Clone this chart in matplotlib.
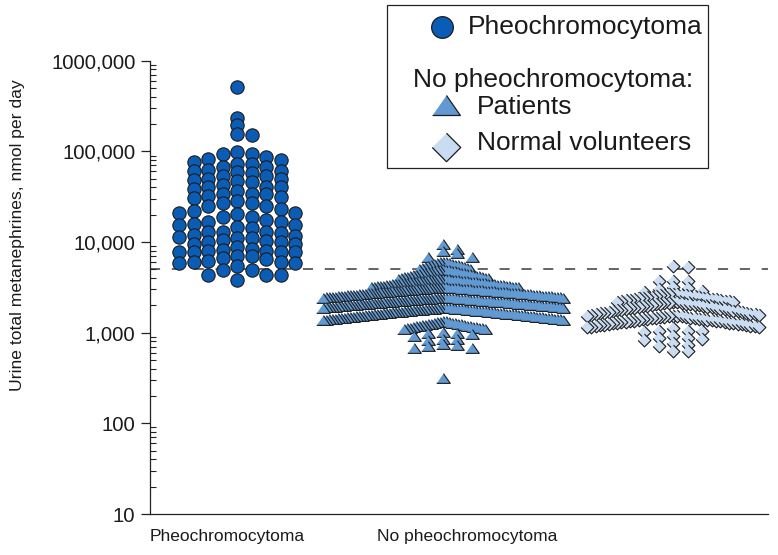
import numpy as np
import matplotlib
matplotlib.use("Agg")
import matplotlib.pyplot as plt
from matplotlib.patches import Rectangle
from matplotlib.ticker import FixedLocator, LogLocator, NullFormatter

plt.rcParams['font.family'] = ['Liberation Sans', 'DejaVu Sans']

# ---------------- data: urine total metanephrines, nmol per day ----------------
category_labels = ["Pheochromocytoma", "No pheochromocytoma"]
tick_values = [10, 100, 1000, 10000, 100000, 1000000]
tick_labels = ["10", "100", "1,000", "10,000", "100,000", "1000,000"]
cutoff = 5000

pheo = [
    507000, 234000, 195000, 157000, 151000,
    98600, 92900, 92900, 86700, 83200, 79700, 76400,
    72000, 72000, 67300, 67300, 62800, 60700, 60700,
    59200, 57700, 53000, 53000, 50000, 50000, 47900,
    47100, 45900, 42200, 40400, 40400, 40400, 38700,
    36500, 34100, 34100, 34100, 31800, 31300, 30800,
    28300, 26900, 26900, 24700, 24700, 23300, 21900, 20800, 20800,
    20300, 19100, 18800, 17300, 16600, 16600, 15900, 15600, 15600,
    14600, 14400, 12900, 12900, 12900, 12500, 12100, 11800, 11300,
    11100, 11000, 10400, 10200, 9950, 9950, 9550, 9550,
    8770, 8400, 8180, 8050, 8050, 7710, 7710, 7710, 7710,
    7100, 7100, 6680, 6520, 6240, 5980, 5980, 5830, 5830,
    5500, 4970, 4920, 4370, 4370, 4370, 3810,
]

patients = [
    9530, 8410, 7960, 7520, 6890, 6790,
    5030, 5090, 5150, 5210, 5270, 5330, 5390, 5450, 5510, 5570,
    5630, 5690, 5750, 5810, 5870, 5980, 6080, 6080,
    3945, 3980, 4015, 4050, 4085, 4120, 4155, 4190, 4225, 4260,
    4295, 4330, 4365, 4400, 4435, 4470, 4505, 4540, 4575, 4610,
    4645, 4680, 4715, 4750, 4785, 4820, 4855, 4890, 4925, 4960,
    4995,
    3170, 3185, 3200, 3216, 3231, 3247, 3262, 3278, 3293, 3309,
    3324, 3340, 3355, 3371, 3386, 3402, 3417, 3433, 3448, 3464,
    3479, 3495, 3510, 3526, 3541, 3557, 3572, 3588, 3603, 3619,
    3634, 3650, 3665, 3681, 3696, 3712, 3727, 3743, 3758, 3774,
    3789, 3805, 3820, 3836, 3851, 3867, 3882, 3898, 3913, 3928,
    2430, 2439, 2448, 2457, 2466, 2475, 2484, 2494, 2503, 2512,
    2521, 2530, 2540, 2549, 2558, 2567, 2576, 2586, 2595, 2604,
    2613, 2622, 2632, 2641, 2650, 2659, 2668, 2678, 2687, 2696,
    2705, 2714, 2724, 2733, 2742, 2751, 2760, 2770, 2779, 2788,
    2797, 2806, 2816, 2825, 2834, 2843, 2852, 2862, 2871, 2880,
    2889, 2898, 2908, 2917, 2926, 2935, 2944, 2954, 2963, 2972,
    2981, 2990, 3000, 3009, 3018, 3027, 3036, 3046, 3055, 3064,
    3073, 3082, 3092, 3101, 3110, 3119, 3128, 3138, 3147, 3155,
    3160,
    1888, 1895, 1901, 1908, 1915, 1922, 1928, 1935, 1942, 1949,
    1956, 1962, 1969, 1976, 1983, 1990, 1996, 2003, 2010, 2017,
    2024, 2030, 2037, 2044, 2051, 2058, 2064, 2071, 2078, 2085,
    2092, 2098, 2105, 2112, 2119, 2126, 2132, 2139, 2146, 2153,
    2160, 2166, 2173, 2180, 2187, 2194, 2200, 2207, 2214, 2221,
    2228, 2234, 2241, 2248, 2255, 2262, 2268, 2275, 2282, 2289,
    2296, 2302, 2309, 2316, 2323, 2330, 2336, 2343, 2350, 2357,
    2364, 2370, 2377, 2384, 2391, 2398, 2404, 2411, 2418, 2422,
    2425,
    1385, 1390, 1396, 1402, 1408, 1415, 1420, 1426, 1433, 1440,
    1445, 1451, 1458, 1464, 1470, 1476, 1482, 1489, 1495, 1500,
    1507, 1513, 1520, 1526, 1532, 1538, 1545, 1551, 1557, 1563,
    1570, 1576, 1582, 1588, 1595, 1601, 1607, 1613, 1620, 1626,
    1632, 1638, 1645, 1651, 1657, 1664, 1670, 1676, 1683, 1689,
    1695, 1701, 1708, 1714, 1720, 1727, 1733, 1739, 1745, 1752,
    1758, 1764, 1770, 1777, 1783, 1790, 1796, 1802, 1808, 1815,
    1821, 1827, 1833, 1840, 1846, 1852, 1858, 1865, 1871, 1877,
    1880,
    1100, 1108, 1115, 1125, 1134, 1140, 1150, 1158, 1166, 1175,
    1183, 1190, 1200, 1210, 1218, 1225, 1235, 1244, 1252, 1260,
    1270, 1280, 1290, 1300, 1312, 1325, 1340, 1360,
    1005, 1000, 995, 979, 925,
    849, 845, 838,
    748, 729, 716, 686, 676,
    319,
]

volunteers = [
    5470, 5260,
    3750, 3750, 3680,
    3160, 3090, 3020, 2880, 2790,
    2172, 2191, 2210, 2230, 2249, 2269, 2288, 2307, 2327, 2346,
    2366, 2385, 2404, 2424, 2443, 2463, 2482, 2501, 2521, 2540,
    2560, 2579, 2598, 2618, 2637, 2657, 2672, 2688,
    1542, 1558, 1574, 1589, 1605, 1621, 1637, 1652, 1668, 1684,
    1700, 1715, 1731, 1747, 1763, 1778, 1794, 1810, 1826, 1841,
    1857, 1873, 1889, 1904, 1920, 1936, 1952, 1967, 1983, 1999,
    2015, 2030, 2046, 2062, 2078, 2093, 2109, 2125, 2141, 2155,
    2165,
    1145, 1155, 1165, 1175, 1185, 1195, 1205, 1214, 1224, 1234,
    1244, 1254, 1264, 1273, 1283, 1293, 1303, 1313, 1323, 1332,
    1342, 1352, 1362, 1372, 1382, 1391, 1401, 1411, 1421, 1431,
    1441, 1450, 1460, 1470, 1480, 1490, 1500, 1509, 1519, 1528,
    1535,
    1125, 1050, 1045, 1040, 1005,
    925, 871, 871, 849, 828,
    760, 735, 712,
    631, 630,
]

# ---------------- styling ----------------
C_PHEO = "#0b5cb5"
C_PAT = "#6199d3"
C_VOL = "#c9dcf1"
EDGE = "#1c1c1c"
TXT = "#1a1a1a"

TRI = [(-1, -0.72), (1, -0.72), (0, 0.72)]
DIA = [(0, 1), (1, 0), (0, -1), (-1, 0)]


def swarm(values, edges, wide_step, tight_step, max_wide):
    """Bin values on a log scale into rows; within a row, place the points
    from the largest value outward (centre, right, left, ...)."""
    v = np.asarray(values, float)
    b = np.digitize(np.log10(v), edges)
    off = np.zeros(len(v))
    rank = np.zeros(len(v), int)
    for k in np.unique(b):
        idx = np.flatnonzero(b == k)
        idx = idx[np.argsort(-v[idx], kind="stable")]
        step = wide_step if len(idx) <= max_wide else tight_step
        for j, i in enumerate(idx):
            m = (j + 1) // 2
            off[i] = step * m * (1 if j % 2 else -1)
            rank[i] = j
    order = np.lexsort((rank, -b))
    return v, off, order


W, H = 778, 555
fig = plt.figure(figsize=(W / 100, H / 100), dpi=100)
ax_left, ax_bottom, ax_right, ax_top = 150, 514, 768, 60.7
ax = fig.add_axes([ax_left / W, 1 - ax_bottom / H,
                   (ax_right - ax_left) / W, (ax_bottom - ax_top) / H])
ax.set_yscale("log")
ax.set_ylim(10, 1e6)
ax.set_xlim(0, 6.18)
ppu = ax.bbox.width / 6.18  # pixels per x unit

ax.axhline(cutoff, color="#3a3a3a", lw=1.1, linestyle=(0, (6.6, 7.7)), zorder=1)

groups = [
    (pheo, 0.87, [3.50, 3.62, 3.755, 3.87, 3.96, 4.05, 4.18, 4.31, 4.47, 4.575,
                  4.677, 4.778, 4.87, 5.10, 5.25, 5.33, 5.50, 5.90],
     14.5, 14.5, 50, "o", C_PHEO, 92, 0.8),
    (patients, 2.925, [2.40, 2.80, 2.90, 2.94, 3.04, 3.14, 3.275, 3.385, 3.50,
                       3.595, 3.70, 3.81, 3.92, 4.05],
     14.5, 3.0, 6, TRI, C_PAT, 95, 0.8),
    (volunteers, 5.23, [2.70, 2.845, 2.905, 2.985, 3.058, 3.187, 3.336, 3.43,
                        3.53, 3.63, 3.80],
     14.5, 4.3, 6, DIA, C_VOL, 85, 0.8),
]
for vals, cx, edges, ws, ts, mw, mk, col, s, lw in groups:
    v, off, order = swarm(vals, edges, ws, ts, mw)
    x = cx + off / ppu
    ax.scatter(x[order], v[order], marker=mk, s=s, facecolor=col,
               edgecolor=EDGE, linewidth=lw, zorder=3)

# axes styling
for side in ("top", "right"):
    ax.spines[side].set_visible(False)
for side in ("left", "bottom"):
    ax.spines[side].set_linewidth(0.9)
    ax.spines[side].set_color("#222222")

ax.yaxis.set_major_locator(FixedLocator(tick_values))
ax.set_yticklabels(tick_labels)
ax.yaxis.set_minor_locator(LogLocator(base=10, subs=np.arange(2, 10)))
ax.yaxis.set_minor_formatter(NullFormatter())
ax.tick_params(axis="y", which="major", direction="out", length=6.5, width=0.9,
               pad=4.0, labelsize=14.6, labelcolor=TXT, color="#222222")
ax.tick_params(axis="y", which="minor", direction="in", length=4.5, width=0.8,
               color="#222222")

ax.set_xticks([0.768, 3.175])
ax.set_xticklabels(category_labels)
ax.tick_params(axis="x", length=0, pad=11, labelsize=12.5, labelcolor=TXT)

fig.text(18 / W, 1 - 235 / H, "Urine total metanephrines, nmol per day",
         rotation=90, ha="center", va="center", fontsize=12.6, color=TXT)

# legend box drawn in pixel coordinates
ov = fig.add_axes([0, 0, 1, 1], zorder=5)
ov.set_xlim(0, W)
ov.set_ylim(H, 0)
ov.axis("off")
ov.add_patch(Rectangle((387.5, 5), 320.5, 163, facecolor="white",
                       edgecolor="#222222", lw=0.9))
ov.scatter([442.3], [26.7], marker="o", s=15.6 ** 2, facecolor=C_PHEO,
           edgecolor=EDGE, linewidth=0.9, zorder=6)
ov.scatter([445.7], [105], marker=TRI, s=20 ** 2, facecolor=C_PAT,
           edgecolor=EDGE, linewidth=0.9, zorder=6)
ov.scatter([445.7], [146.7], marker=DIA, s=20.5 ** 2, facecolor=C_VOL,
           edgecolor=EDGE, linewidth=0.9, zorder=6)
leg_font = 19
ov.text(468, 34.3, "Pheochromocytoma", fontsize=leg_font, va="baseline", color=TXT)
ov.text(413, 87.3, "No pheochromocytoma:", fontsize=leg_font, va="baseline", color=TXT)
ov.text(477, 114.3, "Patients", fontsize=leg_font, va="baseline", color=TXT)
ov.text(477, 150, "Normal volunteers", fontsize=leg_font, va="baseline", color=TXT)

fig.savefig("out.png", dpi=100)
